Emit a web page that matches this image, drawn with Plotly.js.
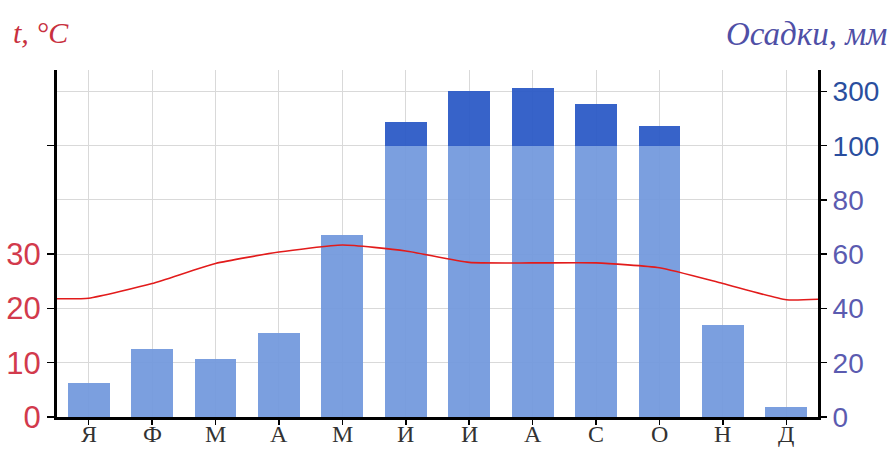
<!DOCTYPE html>
<html>
<head>
<meta charset="utf-8">
<script src="https://cdn.plot.ly/plotly-3.0.1.min.js"></script>
<style>html,body{margin:0;padding:0;background:#fff;}#chart{width:895px;height:450px;}</style>
</head>
<body>
<div id="chart"></div>
<script>
// Data
const months = ["Я", "Ф", "М", "А", "М", "И", "И", "А", "С", "О", "Н", "Д"];
const precipitation = [12.6, 25, 21.5, 31, 67, 188, 300, 312, 253, 173, 34, 3.7]; // mm
const temperature = [21.9, 24.6, 28.3, 30.4, 31.7, 30.6, 28.5, 28.4, 28.4, 27.5, 24.6, 21.6]; // °C
const tempEdgeStart = 21.8; // line continues to the left axis
const tempEdgeEnd = 21.7;   // line continues to the right axis
const precipTickVals = [0, 20, 40, 60, 80, 100, 300];
const tempTickVals = [0, 10, 20, 30];

// Broken precipitation scale: linear to 100 mm, then 200 mm compressed into 20 units
const BREAK = 100, COMPRESS = 10;
const toDisplay = v => v <= BREAK ? v : BREAK + (v - BREAK) / COMPRESS;

const idx = months.map((m, i) => i);
const lowerPart = precipitation.map(v => Math.min(v, BREAK));
const upperPart = precipitation.map(v => v > BREAK ? (v - BREAK) / COMPRESS : 0);

const yTop = 127.9;
const plotH = 347.8;
const traces = [
  {type: 'bar', x: idx, y: lowerPart, marker: {color: '#7198dd', opacity: 0.93, line: {width: 0}},
   width: 0.66, yaxis: 'y', hoverinfo: 'skip'},
  {type: 'bar', x: idx, y: upperPart, marker: {color: '#2c5bc6', opacity: 0.95, line: {width: 0}},
   width: 0.66, yaxis: 'y', hoverinfo: 'skip'},
  {type: 'scatter', mode: 'lines', x: [-0.5].concat(idx, [11.5]),
   y: [tempEdgeStart].concat(temperature, [tempEdgeEnd]),
   line: {color: '#e21b1b', width: 1.6, shape: 'spline', smoothing: 0.5}, yaxis: 'y2', hoverinfo: 'skip'}
];

const blueLow = '#5b5bb0', blueHigh = '#2a4e9e';
const monthLabels = months.map((m, i) => ({
  xref: 'x', yref: 'paper', x: i, y: -31.5 / plotH, xanchor: 'center', yanchor: 'bottom',
  showarrow: false, borderpad: 0, text: m, font: {family: 'Liberation Serif', size: 24, color: '#333'}
}));
const layout = {
  width: 895, height: 450,
  margin: {l: 57, r: 77, t: 69.5, b: 32.7},
  paper_bgcolor: '#fff', plot_bgcolor: '#fff',
  barmode: 'stack', bargap: 0.34,
  showlegend: false,
  xaxis: {
    range: [-0.5, 11.5], tickvals: idx, showticklabels: false,
    showgrid: true, gridcolor: '#d9d9d9', gridwidth: 1,
    showline: true, linecolor: '#000', linewidth: 3,
    ticks: 'outside', ticklen: 5, tickwidth: 1.5, tickcolor: '#000',
    zeroline: false, fixedrange: true
  },
  yaxis: {
    side: 'right', range: [0, yTop],
    tickvals: precipTickVals.map(toDisplay),
    ticktext: precipTickVals.map(v => '<span style="color:' + (v >= 100 ? blueHigh : blueLow) + '">' + v + '</span>'),
    showgrid: true, gridcolor: '#d9d9d9', gridwidth: 1,
    showline: true, linecolor: '#000', linewidth: 3,
    ticks: 'outside', ticklen: 6, tickwidth: 1.5, tickcolor: '#000',
    tickfont: {family: 'Liberation Sans', size: 28, color: blueLow},
    zeroline: false, fixedrange: true
  },
  yaxis2: {
    overlaying: 'y', side: 'left', range: [0, yTop / 2],
    tickvals: tempTickVals.concat([50]),
    ticktext: tempTickVals.map(String).concat(['']),
    showgrid: false,
    showline: true, linecolor: '#000', linewidth: 3,
    ticks: 'outside', ticklen: 7, tickwidth: 1.5, tickcolor: '#000',
    tickfont: {family: 'Liberation Sans', size: 31, color: '#d23a4c'},
    zeroline: false, fixedrange: true
  },
  annotations: monthLabels.concat([
    {xref: 'paper', yref: 'paper', x: (11 - 57) / 761, y: (417.3 - 32) / plotH,
     xanchor: 'left', yanchor: 'middle', showarrow: false,
     text: '<i>t, °C</i>', font: {family: 'Liberation Serif', size: 30, color: '#c8303e'}},
    {xref: 'paper', yref: 'paper', x: (889 - 57) / 761, y: (417.3 - 33) / plotH,
     xanchor: 'right', yanchor: 'middle', showarrow: false,
     text: '<i>Осадки, мм</i>', font: {family: 'Liberation Serif', size: 33, color: '#4f4fa6'}}
  ])
};

Plotly.newPlot('chart', traces, layout, {staticPlot: true, displayModeBar: false});
</script>
</body>
</html>
